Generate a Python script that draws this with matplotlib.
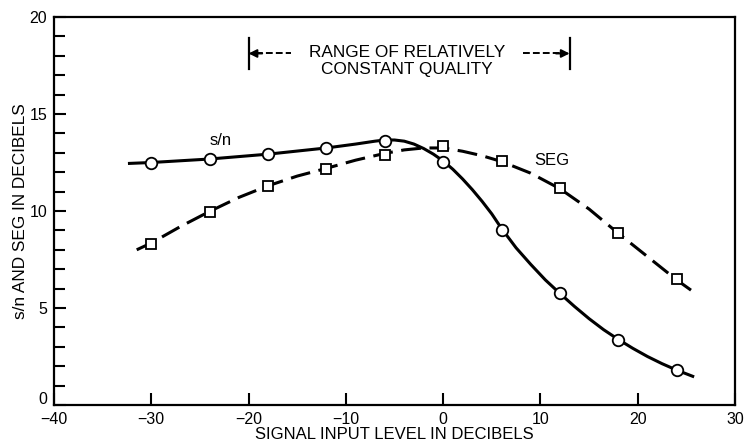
'''Signal-to-noise and SEG against signal input level.'''
from matplotlib import pyplot as plt
from matplotlib.transforms import ScaledTranslation

# ==============================
# DATA
level_db = [-30, -24, -18, -12, -6, 0, 6, 12, 18, 24]
sn_points = [12.46, 12.66, 12.92, 13.23, 13.61, 12.53, 9.0, 5.76, 3.35, 1.82]
seg_points = [8.3, 9.96, 11.3, 12.15, 12.89, 13.35, 12.56, 11.17, 8.85, 6.48]

# hand-drawn smooth curves
sn_curve_x = [-32.4, -30, -24, -18, -12, -9, -7, -6, -5, -4, -3, -2, -1, 0,
              1, 2, 3, 4, 5, 6, 7.5, 9, 10.5, 12, 13.5, 15, 16.5, 18, 19.5,
              21, 22.5, 24, 25.8]
sn_curve_y = [12.45, 12.5, 12.68, 12.93, 13.25, 13.45, 13.6, 13.66, 13.66, 13.6,
              13.45, 13.22, 12.93, 12.58, 12.15, 11.65, 11.1, 10.5, 9.85, 9.1,
              8.1, 7.25, 6.45, 5.75, 5.08, 4.45, 3.88, 3.38, 2.92, 2.5, 2.13,
              1.8, 1.45]
seg_curve_x = [-31.5, -30, -27, -24, -21, -18, -15, -12, -9, -6, -4, -2, 0,
               2, 4, 6, 9, 12, 15, 18, 21, 24, 25.7]
seg_curve_y = [8.0, 8.35, 9.2, 9.98, 10.7, 11.3, 11.8, 12.2, 12.62, 12.97, 13.15,
               13.25, 13.25, 13.08, 12.85, 12.55, 11.95, 11.15, 10.1, 8.85, 7.65,
               6.45, 5.84]

x_ticks = [-40, -30, -20, -10, 0, 10, 20, 30]
y_ticks = [0, 5, 10, 15, 20]

plt.rcParams['font.family'] = ['Liberation Sans', 'DejaVu Sans']

fig = plt.figure(figsize=(7.44, 4.43), dpi=100)
ax = fig.add_axes([0.0726, 0.0858, 0.9153, 0.8758])

# Curves
ax.plot(sn_curve_x, sn_curve_y, color='black', lw=2.2, solid_capstyle='butt', zorder=2)
ax.plot(seg_curve_x, seg_curve_y, color='black', lw=2.2, linestyle=(0, (6.5, 2.8)),
        dash_capstyle='butt', zorder=2)

# Markers
ax.plot(level_db, sn_points, linestyle='none', marker='o', markersize=8.3,
        markerfacecolor='white', markeredgecolor='black', markeredgewidth=1.3, zorder=3)
ax.plot(level_db, seg_points, linestyle='none', marker='s', markersize=7.7,
        markerfacecolor='white', markeredgecolor='black', markeredgewidth=1.3, zorder=3)

# Curve labels
ax.text(-22.9, 13.66, 's/n', fontsize=12, ha='center', va='center')
ax.text(11.15, 12.58, 'SEG', fontsize=12, ha='center', va='center')

# Range bracket
for bar_x in (-20, 13):
    ax.plot([bar_x, bar_x], [17.3, 18.9], color='black', lw=1.6)
ax.plot([-19.2, -15.6], [18.12, 18.12], color='black', lw=1.4, linestyle=(0, (3.5, 1.6)))
ax.plot([8.2, 12.2], [18.12, 18.12], color='black', lw=1.4, linestyle=(0, (3.5, 1.6)))
arrow_style = dict(arrowstyle='-|>', color='black', lw=1.4, mutation_scale=12,
                   shrinkA=0, shrinkB=0)
ax.annotate('', xy=(-20, 18.12), xytext=(-18.6, 18.12), arrowprops=arrow_style)
ax.annotate('', xy=(13, 18.12), xytext=(11.6, 18.12), arrowprops=arrow_style)
ax.text(-3.7, 17.73, 'RANGE OF RELATIVELY\nCONSTANT QUALITY', fontsize=12.4,
        ha='center', va='center', linespacing=1.15)

# Axes
ax.set_xlim(-40, 30)
ax.set_ylim(0, 20)
ax.set_xticks(x_ticks)
ax.set_yticks(y_ticks)
ax.set_yticks(range(0, 21), minor=True)
ax.tick_params(axis='both', direction='in', width=1.5, length=8.5, labelsize=11.5,
               color='black', pad=5)
ax.tick_params(axis='y', which='minor', direction='in', width=1.5, length=8)
ax.set_xticklabels([f'\u2212{-t}' if t < 0 else str(t) for t in x_ticks])
for spine in ax.spines.values():
    spine.set_linewidth(1.6)

# the zero on the y axis sits a little above the x axis line
zero_label = ax.get_yticklabels()[0]
zero_label.set_transform(zero_label.get_transform()
                         + ScaledTranslation(0, 5 / 72, fig.dpi_scale_trans))

ax.set_xlabel('SIGNAL INPUT LEVEL IN DECIBELS', fontsize=12, labelpad=0)
ax.set_ylabel('s/n AND SEG IN DECIBELS', fontsize=12.4, labelpad=1)

fig.savefig('out.png', dpi=100)
